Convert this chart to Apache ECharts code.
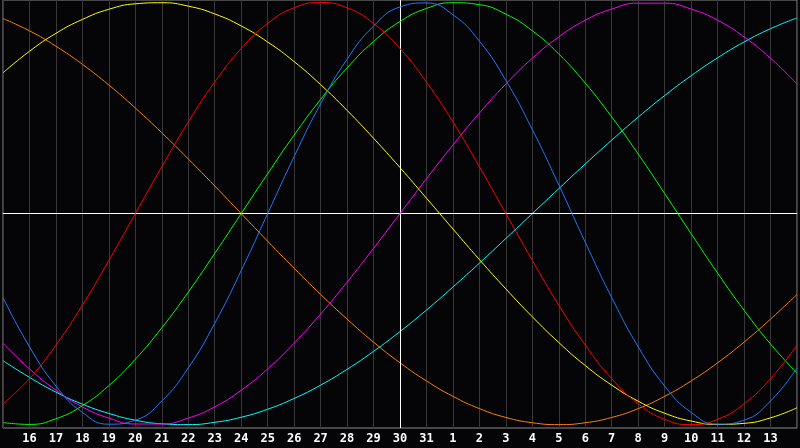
<!DOCTYPE html>
<html>
<head>
<meta charset="utf-8">
<script src="https://cdn.jsdelivr.net/npm/echarts@6/dist/echarts.min.js"></script>
<style>
  html, body { margin: 0; padding: 0; background: #050507; }
  #chart { width: 800px; height: 448px; }
</style>
</head>
<body>
<div id="chart"></div>
<script>
// Day labels (tick labels); first and last sit on the plot edges and are not labelled
const dayLabels = ['15','16','17','18','19','20','21','22','23','24','25','26','27','28','29','30','31',
                   '1','2','3','4','5','6','7','8','9','10','11','12','13','14'];

// Values (-1 .. 1), one per day
const redValues = [-0.901,-0.782,-0.623,-0.434,-0.222,0,0.222,0.434,0.623,0.782,0.901,0.975,1,0.975,0.901,0.782,
                   0.623,0.434,0.222,0,-0.222,-0.434,-0.623,-0.782,-0.901,-0.975,-1,-0.975,-0.901,-0.782,-0.623];
const blueValues = [-0.398,-0.631,-0.817,-0.942,-0.998,-0.979,-0.888,-0.731,-0.520,-0.270,0,0.270,0.520,0.731,0.888,0.979,
                    0.998,0.942,0.817,0.631,0.398,0.136,-0.136,-0.398,-0.631,-0.817,-0.942,-0.998,-0.979,-0.888,-0.731];
const greenValues = [-0.990,-0.999,-0.972,-0.910,-0.815,-0.690,-0.541,-0.372,-0.189,0,0.189,0.372,0.541,0.690,0.815,0.910,
                     0.972,0.999,0.990,0.945,0.866,0.756,0.618,0.458,0.282,0.095,-0.095,-0.282,-0.458,-0.618,-0.756];
const magentaValues = [-0.614,-0.736,-0.837,-0.916,-0.969,-0.997,-0.997,-0.969,-0.916,-0.837,-0.736,-0.614,-0.476,-0.325,-0.165,0,
                       0.165,0.325,0.476,0.614,0.736,0.837,0.916,0.969,0.997,0.997,0.969,0.916,0.837,0.736,0.614];
const yellowValues = [0.667,0.769,0.854,0.920,0.968,0.994,0.999,0.983,0.946,0.889,0.813,0.720,0.611,0.489,0.357,0.218,
                      0.073,-0.073,-0.218,-0.357,-0.489,-0.611,-0.720,-0.813,-0.889,-0.946,-0.983,-0.999,-0.994,-0.968,-0.920];
const orangeValues = [0.924,0.866,0.793,0.707,0.609,0.500,0.383,0.259,0.131,0,-0.131,-0.259,-0.383,-0.500,-0.609,-0.707,
                      -0.793,-0.866,-0.924,-0.966,-0.991,-1,-0.991,-0.966,-0.924,-0.866,-0.793,-0.707,-0.609,-0.500,-0.383];
const cyanValues = [-0.697,-0.776,-0.846,-0.903,-0.947,-0.979,-0.996,-1.000,-0.989,-0.965,-0.927,-0.876,-0.813,-0.738,-0.653,-0.559,
                    -0.457,-0.348,-0.235,-0.118,0,0.118,0.235,0.348,0.457,0.559,0.653,0.738,0.813,0.876,0.927];

const seriesDefs = [
  { name: 'orange',  color: '#ff8000', data: orangeValues },
  { name: 'cyan',    color: '#00ffff', data: cyanValues },
  { name: 'magenta', color: '#ff00ff', data: magentaValues },
  { name: 'yellow',  color: '#ffff00', data: yellowValues },
  { name: 'green',   color: '#00ff00', data: greenValues },
  { name: 'red',     color: '#ff0000', data: redValues },
  { name: 'blue',    color: '#1e78ff', data: blueValues }
];

const chart = echarts.init(document.getElementById('chart'));
const lastIdx = dayLabels.length - 1;

const series = seriesDefs.map((s, k) => ({
  name: s.name,
  type: 'line',
  data: s.data,
  smooth: true,
  symbol: 'none',
  lineStyle: { color: s.color, width: 1 },
  itemStyle: { color: s.color },
  silent: true,
  z: 3 + k
}));

series.push({
  name: 'axes',
  type: 'line',
  data: [],
  silent: true,
  z: 2,
  markLine: {
    silent: true,
    symbol: 'none',
    label: { show: false },
    lineStyle: { color: '#ffffff', width: 1, type: 'solid' },
    data: [{ yAxis: 0 }, { xAxis: '30' }]
  }
});

chart.setOption({
  animation: false,
  backgroundColor: '#050507',
  grid: {
    left: 0, right: 0, top: 0, bottom: 20,
    show: true,
    borderColor: '#8c8c8c',
    borderWidth: 1,
    backgroundColor: 'transparent'
  },
  xAxis: {
    type: 'category',
    data: dayLabels,
    boundaryGap: false,
    axisLine: { show: true, lineStyle: { color: '#8c8c8c', width: 1 } },
    axisTick: { show: false },
    axisLabel: {
      interval: 0,
      margin: 5,
      color: '#ffffff',
      fontFamily: 'DejaVu Sans Mono',
      fontWeight: 'bold',
      fontSize: 12,
      formatter: (v, idx) => (idx === 0 || idx === lastIdx) ? '' : v
    },
    splitLine: { show: true, interval: 0, lineStyle: { color: '#383838', width: 1 } }
  },
  yAxis: {
    type: 'value',
    min: -1.016,
    max: 1.012,
    show: true,
    axisLine: { show: false },
    axisTick: { show: false },
    axisLabel: { show: false },
    splitLine: { show: false }
  },
  series: series
});
</script>
</body>
</html>
